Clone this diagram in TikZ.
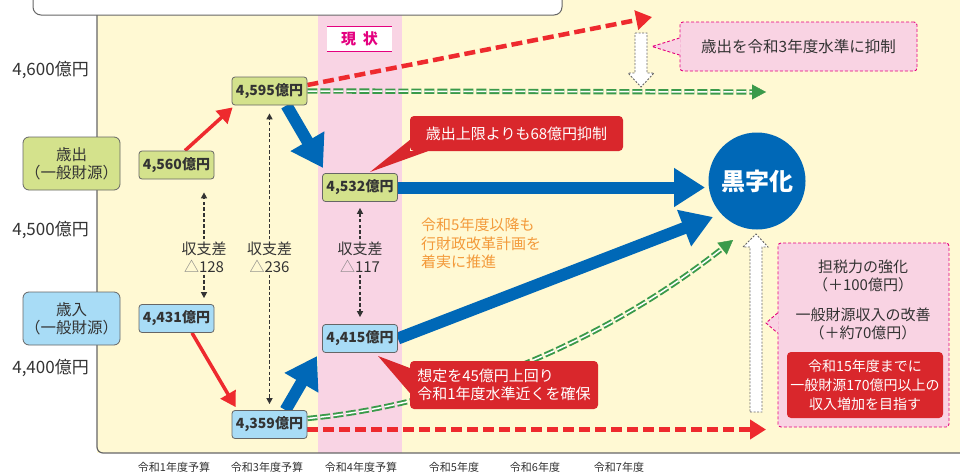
\documentclass[tikz,border=0pt]{standalone}
\usepackage{fontspec}
\setmainfont{Noto Sans CJK JP}
\usetikzlibrary{arrows.meta,calc}
\pgfdeclarelayer{back}
\pgfdeclarelayer{mid}
\pgfsetlayers{back,mid,main}
\definecolor{creamC}{HTML}{FFF9D3}
\definecolor{bandC}{HTML}{F9D4E4}
\definecolor{pinkC}{HTML}{F9D3E3}
\definecolor{magC}{HTML}{E4007F}
\definecolor{gfill}{HTML}{D4E28C}
\definecolor{bfill}{HTML}{A8DCF6}
\definecolor{blueC}{HTML}{0068B7}
\definecolor{redC}{HTML}{EE2A2E}
\definecolor{redD}{HTML}{D9272C}
\definecolor{greenC}{HTML}{3A9A4A}
\definecolor{orangeC}{HTML}{F39A3A}
\definecolor{txt}{HTML}{333333}
\definecolor{lineC}{HTML}{666666}
\newcommand\myfs[2]{\fontsize{#1}{#2}\selectfont}
\begin{document}
\begin{tikzpicture}[x=1pt,y=-1pt,
 valg/.style={draw=lineC, fill=gfill, rounded corners=3pt, line width=0.8pt, minimum width=75pt, minimum height=28pt, inner sep=0pt, text=txt, font=\bfseries\myfs{14}{16}},
 valb/.style={valg, fill=bfill},
 labg/.style={draw=lineC, fill=gfill, rounded corners=6pt, line width=0.8pt, minimum width=97pt, minimum height=53pt, inner sep=0pt, align=center, text=txt, font=\myfs{15.5}{18}},
 labb/.style={labg, fill=bfill},
 axl/.style={anchor=east, text=txt, font=\myfs{17}{19}, inner sep=0pt},
 xlab/.style={text=txt, font=\myfs{11}{13}, inner sep=0pt},
 difftxt/.style={align=center, text=txt, font=\myfs{15}{18}, inner sep=2pt},
 redarr/.style={draw=redC, line width=3.5pt, -{Triangle[length=15pt,width=17pt]}},
 bluearr/.style={draw=blueC, line width=12pt, -{Triangle[length=31pt,width=37pt]}},
 reddash/.style={draw=redC, line width=4.5pt, dash pattern=on 11pt off 5pt, -{Triangle[length=16pt,width=19pt]}},
 greendbl/.style={draw=greenC, line width=1.9pt, double=white, double distance=1.5pt, dash pattern=on 10pt off 3pt},
 greenhead/.style={draw=greenC, fill=greenC, line width=0.4pt, -{Triangle[length=14pt,width=15pt]}},
 dotarr/.style={draw=txt, line width=1.6pt, dash pattern=on 3.5pt off 2.2pt, -{Triangle[length=6pt,width=6pt]}},
 hollow/.style={draw=lineC, fill=white, line width=0.9pt, dash pattern=on 2pt off 1.5pt},
 pinkcall/.style={fill=pinkC, draw=magC, line width=0.9pt, dash pattern=on 3pt off 2pt, rounded corners=3pt, inner sep=0pt, text=txt},
 magdash/.style={draw=magC, line width=0.9pt, dash pattern=on 3pt off 2pt},
 redcall/.style={fill=redD, rounded corners=4pt, text=white, inner sep=0pt, font=\myfs{15}{18}},
]
\useasboundingbox (0,0) rectangle (960,474);

% ---------- background ----------
\begin{pgfonlayer}{back}
\fill[white] (0,0) rectangle (960,474);
\fill[creamC] (97,0) rectangle (960,453);
\fill[bandC] (318,0) rectangle (402,453);
\draw[lineC, line width=1.2pt, rounded corners=6pt] (97,15) -- (97,453) -- (975,453);
\draw[lineC, line width=1pt, fill=white, rounded corners=8pt] (33,-20) rectangle (562,15);
\end{pgfonlayer}

% ---------- axis labels ----------
\node[axl] (y600) at (89,70) {4,600億円};
\node[axl] (y500) at (89,230) {4,500億円};
\node[axl] (y400) at (89,368) {4,400億円};

\node[xlab] (x1) at (174,467) {令和1年度予算};
\node[xlab] (x3) at (267,467) {令和3年度予算};
\node[xlab] (x4) at (361,467) {令和4年度予算};
\node[xlab] (x5) at (454,467) {令和5年度};
\node[xlab] (x6) at (535,467) {令和6年度};
\node[xlab] (x7) at (619,467) {令和7年度};

% ---------- current label ----------
\node[fill=white, minimum width=65pt, minimum height=24pt, inner sep=0pt, text=magC, font=\bfseries\myfs{15}{17}] (now) at (359.5,39) {現\hspace{7pt}状};
\draw[magC, line width=1.2pt] (now.north west) -- (now.north east);
\draw[magC, line width=1.2pt] (now.south west) -- (now.south east);

% ---------- left labels ----------
\node[labg] (lsp) at (71.5,163.5) {歳出\\（一般財源）};
\node[labb] (lrev) at (71.5,318.5) {歳入\\（一般財源）};

% ---------- value boxes ----------
\node[valg] (v4560) at (176.5,165) {4,560億円};
\node[valb] (v4431) at (176.5,318.5) {4,431億円};
\node[valg] (v4595) at (269.5,91) {4,595億円};
\node[valb] (v4359) at (269.5,424.5) {4,359億円};
\node[valg] (v4532) at (360,187.5) {4,532億円};
\node[valb] (v4415) at (360,338.5) {4,415億円};

% ---------- goal ----------
\node[circle, fill=blueC, minimum size=97pt, inner sep=0pt, text=white, font=\bfseries\myfs{24}{26}] (goal) at (757,181) {黒字化};

% ---------- difference labels ----------
\node[difftxt] (d128) at (204,257) {収支差\\{\color{gray}△}128};
\node[difftxt] (d236) at (269.5,257) {収支差\\{\color{gray}△}236};
\node[difftxt] (d117) at (360,257) {収支差\\{\color{gray}△}117};

% ---------- orange note ----------
\node[anchor=west, align=left, text=orangeC, font=\myfs{15}{18.5}, inner sep=0pt] (plan) at (421,243.5) {令和5年度以降も\\行財政改革計画を\\着実に推進};

% ---------- callouts ----------
\coordinate (p1) at (652,46.5);
\node[pinkcall, minimum width=237pt, minimum height=49pt, font=\myfs{15.5}{18}] (c1) at (798.5,46.5) {歳出を令和3年度水準に抑制};
\fill[pinkC] ([yshift=8.5pt,xshift=1pt]c1.west) -- (p1) -- ([yshift=-8.5pt,xshift=1pt]c1.west) -- cycle;
\draw[magdash] ([yshift=8.5pt]c1.west) -- (p1) -- ([yshift=-8.5pt]c1.west);

\coordinate (p2) at (766,323);
\node[pinkcall, minimum width=171pt, minimum height=184pt] (c2) at (863.5,335) {};
\fill[pinkC] ([yshift=22pt,xshift=1pt]c2.west) -- (p2) -- ([yshift=2pt,xshift=1pt]c2.west) -- cycle;
\draw[magdash] ([yshift=22pt]c2.west) -- (p2) -- ([yshift=2pt]c2.west);
\node[align=center, text=txt, font=\myfs{15}{18}, inner sep=0pt] (t1) at (863,276) {担税力の強化\\（＋100億円）};
\node[align=center, text=txt, font=\myfs{15}{18}, inner sep=0pt] (t2) at (863,324) {一般財源収入の改善\\（＋約70億円）};
\node[redcall, align=center, minimum width=156pt, minimum height=66pt, font=\myfs{14}{19}] (t3) at (865,385) {令和15年度までに\\一般財源170億円以上の\\収入増加を目指す};

\coordinate (pr1) at (370,172);
\node[redcall, minimum width=213pt, minimum height=35pt] (rc1) at (516.5,133.5) {歳出上限よりも68億円抑制};
\fill[redD] ([yshift=-6.5pt]rc1.west) -- (pr1) -- ([xshift=18pt]rc1.south west) -- (rc1.south west) -- cycle;

\coordinate (pr2) at (378,356);
\node[redcall, align=left, minimum width=188pt, minimum height=48pt] (rc2) at (504,385) {想定を45億円上回り\\令和1年度水準近くを確保};
\fill[redD] ([yshift=17pt]rc2.west) -- (pr2) -- ([yshift=-8pt]rc2.west) -- cycle;

% ---------- connectors ----------
\coordinate (rt) at (652,17);
\coordinate (rb) at (766,429.5);
\coordinate (gt) at (766,92);
\coordinate (gb) at (733,240);
\coordinate (bt1) at (323,168);
\coordinate (bt2) at (317,356);
\coordinate (bt3) at (705,187.5);
\coordinate (bt4) at (713,217);

\begin{pgfonlayer}{mid}
% red solid
\draw[redarr] ([xshift=8.5pt]v4560.north) -- ([xshift=1pt,yshift=-2pt]v4595.south west);
\draw[redarr] ([xshift=15.5pt]v4431.south) -- ([xshift=4pt,yshift=3pt]v4359.north west);
% blue thick
\draw[bluearr] ([xshift=17pt]v4595.south) -- (bt1);
\draw[bluearr] ([xshift=16pt]v4359.north) -- (bt2);
\draw[bluearr] (v4532.east) -- (bt3);
\draw[bluearr] (v4415.east) -- (bt4);
% red dashed
\draw[reddash] ([yshift=6pt]v4595.east) -- (rt);
\draw[reddash] ([yshift=-5pt]v4359.east) -- (rb);
% green double dashed
\draw[greendbl, shorten >=12pt] (v4595.east) -- (gt);
\draw[greenhead] ($(gt)+(-14,0)$) -- (gt);
\draw[greendbl, shorten >=12pt] ([yshift=6pt]v4359.east) .. controls (450,405) and (600,345) .. (gb);
\draw[greenhead] ($(gb)!14pt!(600,345)$) -- (gb);
% dotted difference arrows
\draw[dotarr] (d128.north) -- ([xshift=27.5pt,yshift=-13pt]v4560.south);
\draw[dotarr] (d128.south) -- ([xshift=27.5pt,yshift=6pt]v4431.north);
\draw[dotarr] (d236.north) -- ([yshift=-8pt]v4595.south);
\draw[dotarr] (d236.south) -- ([yshift=6pt]v4359.north);
\draw[dotarr] (d117.north) -- ([yshift=-6pt]v4532.south);
\draw[dotarr] (d117.south) -- ([yshift=7pt]v4415.north);
% hollow arrows
\draw[hollow] (635,33) -- (647,33) -- (647,73) -- (654,73) -- (641,87) -- (628,73) -- (635,73) -- cycle;
\draw[hollow] (750,412) -- (762,412) -- (762,247) -- (768,247) -- (756,234) -- (743,247) -- (750,247) -- cycle;
\end{pgfonlayer}
\end{tikzpicture}
\end{document}
